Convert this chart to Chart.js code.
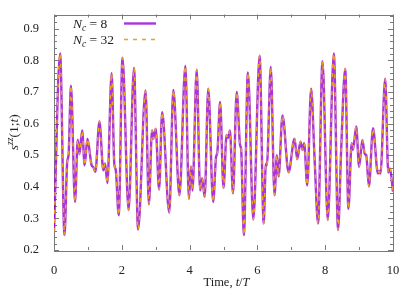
<!DOCTYPE html>
<html>
<head>
<meta charset="utf-8">
<script src="https://cdn.jsdelivr.net/npm/chart.js@4/dist/chart.umd.min.js"></script>
<style>
html, body { margin: 0; padding: 0; background: #fff; }
</style>
</head>
<body>
<canvas id="chart" width="415" height="291"></canvas>
<script>
// time axis, t/T
const times = [0.00, 0.18, 0.31, 0.39, 0.43, 0.50, 0.62, 0.70, 0.75, 0.83, 0.905, 0.985,
  1.11, 1.16, 1.22, 1.34, 1.455, 1.505, 1.575, 1.70, 1.78, 1.82, 1.91,
  2.02, 2.20, 2.36, 2.48, 2.70, 2.80, 2.89, 2.93, 3.00, 3.10, 3.19, 3.40, 3.52, 3.70, 3.875, 3.98,
  4.04, 4.085, 4.21, 4.31, 4.37, 4.445, 4.55, 4.695, 4.78, 4.82, 4.90,
  5.00, 5.09, 5.14, 5.19, 5.28, 5.39, 5.49, 5.52, 5.60, 5.72, 5.88,
  6.065, 6.185, 6.25, 6.28, 6.395, 6.505, 6.575, 6.625, 6.74, 6.92,
  7.095, 7.175, 7.27, 7.33, 7.38, 7.47, 7.585, 7.685, 7.79, 7.92,
  8.075, 8.255, 8.38, 8.47, 8.59, 8.685, 8.78, 8.82, 8.915,
  9.00, 9.095, 9.17, 9.21, 9.29, 9.41, 9.555, 9.59, 9.63, 9.77, 9.86, 9.91, 10.0];

// s^zz(1;t) for N_c = 8
const sNc8 = [0.258, 0.822, 0.247, 0.48, 0.50, 0.72, 0.352, 0.549, 0.503, 0.578, 0.468, 0.552,
  0.468, 0.462, 0.447, 0.607, 0.452, 0.474, 0.412, 0.759, 0.47, 0.455, 0.31,
  0.808, 0.326, 0.776, 0.265, 0.705, 0.345, 0.578, 0.552, 0.584, 0.391, 0.636, 0.318, 0.706, 0.373, 0.782, 0.362,
  0.464, 0.388, 0.770, 0.389, 0.427, 0.368, 0.710, 0.352, 0.494, 0.51, 0.668,
  0.396, 0.563, 0.555, 0.578, 0.379, 0.700, 0.531, 0.52, 0.247, 0.762, 0.296,
  0.815, 0.284, 0.473, 0.468, 0.779, 0.373, 0.50, 0.432, 0.626, 0.446,
  0.552, 0.487, 0.543, 0.517, 0.538, 0.405, 0.710, 0.494, 0.284, 0.797,
  0.295, 0.822, 0.263, 0.515, 0.773, 0.330, 0.538, 0.517, 0.591,
  0.463, 0.548, 0.503, 0.50, 0.401, 0.585, 0.442, 0.45, 0.442, 0.742, 0.445, 0.458, 0.385];

// s^zz(1;t) for N_c = 32 (indistinguishable from N_c = 8 in the plot)
const sNc32 = [0.258, 0.822, 0.247, 0.48, 0.50, 0.72, 0.352, 0.549, 0.503, 0.578, 0.468, 0.552,
  0.468, 0.462, 0.447, 0.607, 0.452, 0.474, 0.412, 0.759, 0.47, 0.455, 0.31,
  0.808, 0.326, 0.776, 0.265, 0.705, 0.345, 0.578, 0.552, 0.584, 0.391, 0.636, 0.318, 0.706, 0.373, 0.782, 0.362,
  0.464, 0.388, 0.770, 0.389, 0.427, 0.368, 0.710, 0.352, 0.494, 0.51, 0.668,
  0.396, 0.563, 0.555, 0.578, 0.379, 0.700, 0.531, 0.52, 0.247, 0.762, 0.296,
  0.815, 0.284, 0.473, 0.468, 0.779, 0.373, 0.50, 0.432, 0.626, 0.446,
  0.552, 0.487, 0.543, 0.517, 0.538, 0.405, 0.710, 0.494, 0.284, 0.797,
  0.295, 0.822, 0.263, 0.515, 0.773, 0.330, 0.538, 0.517, 0.591,
  0.463, 0.548, 0.503, 0.50, 0.401, 0.585, 0.442, 0.45, 0.442, 0.742, 0.445, 0.458, 0.385];

const seriesNc = ["8", "32"];
const xTicks = [0, 2, 4, 6, 8, 10];
const yTicks = [0.2, 0.3, 0.4, 0.5, 0.6, 0.7, 0.8, 0.9];

const SERIF = "'Liberation Serif', 'DejaVu Serif', serif";
const PURPLE = "rgba(148, 0, 211, 0.8)";
const ORANGE = "#eda01e";

function pts(ys) {
    return times.map((t, i) => ({ x: t, y: ys[i] }));
}

// draw a run of text pieces (italic / sub / sup) starting at x
function drawRich(ctx, parts, x, y, size) {
    let cx = x;
    parts.forEach(p => {
        const s = p.scale ? size * p.scale : size;
        ctx.font = (p.it ? "italic " : "") + s + "px " + SERIF;
        ctx.fillText(p.t, cx, y + (p.dy || 0));
        cx += ctx.measureText(p.t).width;
    });
    return cx - x;
}

function richWidth(ctx, parts, size) {
    let w = 0;
    parts.forEach(p => {
        const s = p.scale ? size * p.scale : size;
        ctx.font = (p.it ? "italic " : "") + s + "px " + SERIF;
        w += ctx.measureText(p.t).width;
    });
    return w;
}

const framePlugin = {
    id: "frame",
    beforeDatasetsDraw(chart) {
        const { ctx, chartArea: a, scales: { x, y } } = chart;
        ctx.save();
        ctx.strokeStyle = "#7a7a7a";
        ctx.lineWidth = 1;
        ctx.strokeRect(Math.round(a.left) + 0.5, Math.round(a.top) + 0.5,
            Math.round(a.right - a.left), Math.round(a.bottom - a.top));

        ctx.beginPath();
        // x ticks: labelled majors plus one minor between each pair
        const xs = [];
        xTicks.forEach((v, i) => {
            xs.push([v, 5]);
            if (i < xTicks.length - 1) xs.push([(v + xTicks[i + 1]) / 2, 3]);
        });
        xs.forEach(([v, len]) => {
            const px = Math.round(x.getPixelForValue(v)) + 0.5;
            ctx.moveTo(px, a.bottom); ctx.lineTo(px, a.bottom - len);
            ctx.moveTo(px, a.top); ctx.lineTo(px, a.top + len);
        });
        // y ticks: majors every 0.1, minors every 0.02
        for (let i = 10; i <= 47; i++) {
            const v = i / 50;
            const len = i % 5 === 0 ? 5 : 3;
            const py = Math.round(y.getPixelForValue(v)) + 0.5;
            ctx.moveTo(a.left, py); ctx.lineTo(a.left + len, py);
            ctx.moveTo(a.right, py); ctx.lineTo(a.right - len, py);
        }
        ctx.stroke();
        ctx.restore();
    },
    afterDraw(chart) {
        const { ctx, chartArea: a } = chart;
        ctx.save();
        ctx.fillStyle = "#222";
        ctx.textBaseline = "alphabetic";

        // x axis title
        const xt = [{ t: "Time, " }, { t: "t", it: true }, { t: "/" }, { t: "T", it: true }];
        const xw = richWidth(ctx, xt, 12.5);
        drawRich(ctx, xt, (a.left + a.right) / 2 - xw / 2 + 3, 286, 12.5);

        // y axis title, rotated
        const yt = [{ t: "s", it: true }, { t: "zz", it: true, scale: 0.72, dy: -5.5 },
            { t: "(1;" }, { t: "t", it: true }, { t: ")" }];
        const yw = richWidth(ctx, yt, 13.5);
        ctx.translate(18, (a.top + a.bottom) / 2);
        ctx.rotate(-Math.PI / 2);
        drawRich(ctx, yt, -yw / 2, 0, 13.5);
        ctx.setTransform(1, 0, 0, 1, 0, 0);

        // legend
        const colors = [PURPLE, ORANGE];
        seriesNc.forEach((n, i) => {
            const yy = 28 + i * 16;
            ctx.fillStyle = "#222";
            drawRich(ctx, [{ t: "N", it: true }, { t: "c", it: true, scale: 0.7, dy: 2.5 },
                { t: " = " + n }], 73, yy, 13.5);
            ctx.beginPath();
            ctx.strokeStyle = colors[i];
            ctx.lineWidth = i === 0 ? 2.4 : 1.5;
            ctx.setLineDash(i === 0 ? [] : [4, 5]);
            ctx.moveTo(124, yy - 4.5);
            ctx.lineTo(156, yy - 4.5);
            ctx.stroke();
        });
        ctx.restore();
    }
};

new Chart(document.getElementById("chart"), {
    type: "line",
    data: {
        datasets: [{
            label: "N_c = 8",
            data: pts(sNc8),
            borderColor: PURPLE,
            borderWidth: 2.4,
            order: 2,
            pointRadius: 0,
            cubicInterpolationMode: "monotone",
            fill: false
        }, {
            label: "N_c = 32",
            data: pts(sNc32),
            borderColor: ORANGE,
            borderWidth: 1.5,
            borderDash: [4, 5],
            order: 1,
            pointRadius: 0,
            cubicInterpolationMode: "monotone",
            fill: false
        }]
    },
    options: {
        responsive: false,
        animation: false,
        layout: { padding: { left: 0, right: 22, top: 13, bottom: 0 } },
        plugins: { legend: { display: false }, tooltip: { enabled: false } },
        scales: {
            x: {
                type: "linear",
                min: 0,
                max: 10,
                afterBuildTicks: s => { s.ticks = xTicks.map(v => ({ value: v })); },
                afterFit: s => { s.height = 41; },
                grid: { display: false },
                border: { display: false },
                ticks: { padding: 5, color: "#222", font: { family: SERIF, size: 12.5 },
                    maxRotation: 0, callback: v => String(v) }
            },
            y: {
                min: 0.2,
                max: 0.945,
                afterBuildTicks: s => { s.ticks = yTicks.map(v => ({ value: v })); },
                afterFit: s => { s.width = 54; },
                grid: { display: false },
                border: { display: false },
                ticks: { padding: 7, color: "#222", font: { family: SERIF, size: 12.5 },
                    callback: v => v.toFixed(1) }
            }
        }
    },
    plugins: [framePlugin]
});
</script>
</body>
</html>
